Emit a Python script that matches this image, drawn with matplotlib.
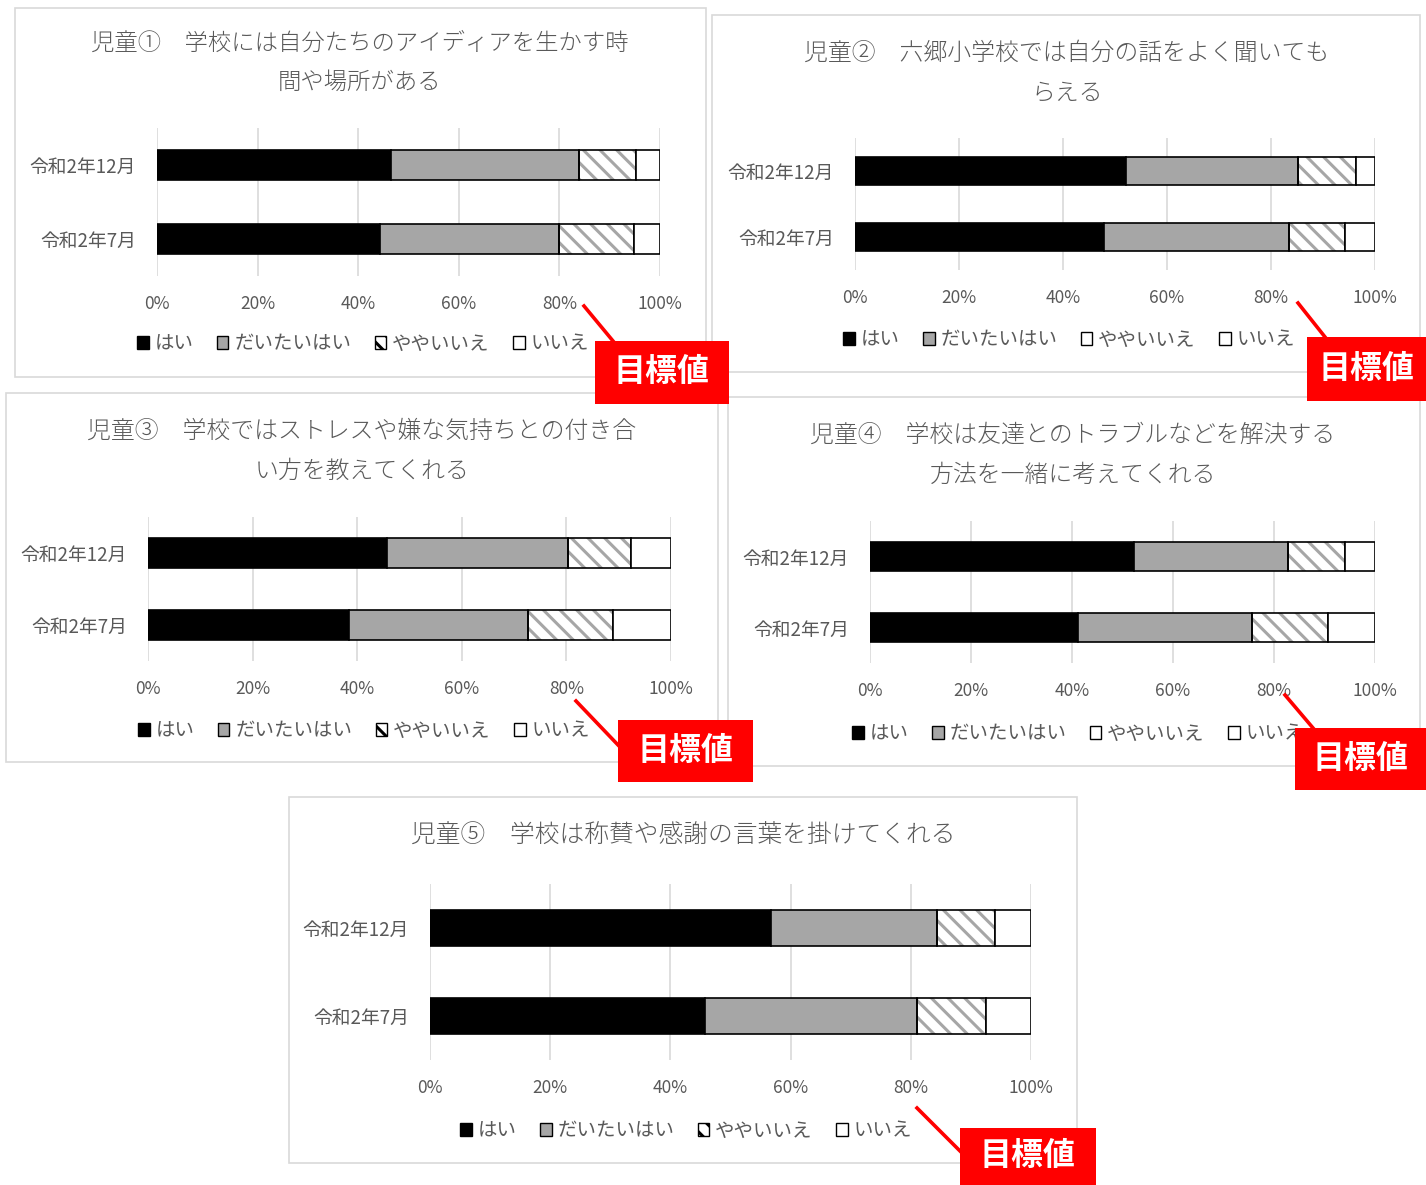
import numpy as np
import matplotlib
matplotlib.use("Agg")
import matplotlib.pyplot as plt
from matplotlib.patches import Rectangle, Patch
from matplotlib.lines import Line2D

plt.rcParams['font.family'] = ['Noto Sans CJK JP', 'DejaVu Sans']
plt.rcParams['hatch.linewidth'] = 2.2

## data
periods = ['令和2年7月', '令和2年12月']
answers = ['はい', 'だいたいはい', 'ややいいえ', 'いいえ']

titles = [
    ['児童①　学校には自分たちのアイディアを生かす時', '間や場所がある'],
    ['児童②　六郷小学校では自分の話をよく聞いても', 'らえる'],
    ['児童③　学校ではストレスや嫌な気持ちとの付き合', 'い方を教えてくれる'],
    ['児童④　学校は友達とのトラブルなどを解決する', '方法を一緒に考えてくれる'],
    ['児童⑤　学校は称賛や感謝の言葉を掛けてくれる'],
]

# percentages per question, rows = [7月, 12月], cols = answers
q1 = [[44.4, 35.6, 14.8, 5.2], [46.5, 37.3, 11.5, 4.7]]
q2 = [[47.8, 35.7, 10.8, 5.7], [52.2, 32.9, 11.3, 3.6]]
q3 = [[38.4, 34.2, 16.4, 11.0], [45.7, 34.7, 12.0, 7.6]]
q4 = [[41.1, 34.6, 14.9, 9.4], [52.3, 30.4, 11.3, 6.0]]
q5 = [[45.8, 35.3, 11.4, 7.5], [56.7, 27.6, 9.7, 6.0]]
results = [q1, q2, q3, q4, q5]

xticks = [0, 20, 40, 60, 80, 100]
target_label = '目標値'

## layout (pixels)
W, H = 1426, 1185
# panel box, plot area, title line y's, title center x, legend pos, hatched legend key
panels = [
    dict(box=(15, 8, 706, 377), ax=(157, 128, 660, 276), ty=[43, 82], tx=360,
         ly=344, lx=363, lhatch=True, tsize=16.8),
    dict(box=(712, 15, 1420, 372), ax=(855, 138, 1375, 270), ty=[53, 93], tx=1067,
         ly=340, lx=1069, lhatch=False, tsize=17.2),
    dict(box=(6, 393, 718, 762), ax=(148, 517, 671, 661), ty=[431, 471], tx=362,
         ly=731, lx=364, lhatch=True, tsize=17.2),
    dict(box=(728, 397, 1420, 766), ax=(870, 521, 1375, 663), ty=[435, 475], tx=1073,
         ly=734, lx=1078, lhatch=False, tsize=17.2),
    dict(box=(289, 797, 1077, 1163), ax=(430, 884, 1031, 1060), ty=[836], tx=683,
         ly=1131, lx=686, lhatch=True, tsize=17.8),
]
# red callouts: box (l, t, r, b), pointer line (x0, y0, x1, y1)
callouts = [
    ((595, 341, 729, 404), (584, 306, 613, 341)),
    ((1307, 337, 1426, 401), (1298, 303, 1325, 337)),
    ((618, 720, 753, 782), (576, 701, 619, 746)),
    ((1295, 728, 1426, 790), (1285, 695, 1313, 728)),
    ((960, 1128, 1096, 1185), (917, 1108, 962, 1153)),
]

txt = '#595959'
grid = '#d9d9d9'
fills = ['black', '#a6a6a6', 'white', 'white']
hatches = [None, None, '\\\\', None]


def fx(x):
    return x / W


def fy(y):
    return 1 - y / H


fig = plt.figure(figsize=(W / 100, H / 100), dpi=100, facecolor='white')

for p, data, title in zip(panels, results, titles):
    l, t, r, b = p['box']
    fig.patches.append(Rectangle((fx(l), fy(b)), (r - l) / W, (b - t) / H,
                                 transform=fig.transFigure, facecolor='white',
                                 edgecolor=grid, linewidth=1.2, zorder=-1))

    al, at, ar, ab = p['ax']
    ax = fig.add_axes([fx(al), fy(ab), (ar - al) / W, (ab - at) / H])
    ax.patch.set_visible(False)

    vals = np.array(data)
    y = np.arange(len(periods))
    left = np.zeros(len(periods))
    for j in range(len(answers)):
        if hatches[j]:
            ax.barh(y, vals[:, j], left=left, height=0.41, color='white',
                    hatch=hatches[j], edgecolor='#a6a6a6', linewidth=0, zorder=2)
            ax.barh(y, vals[:, j], left=left, height=0.41, fill=False,
                    edgecolor='black', linewidth=1.2, zorder=3)
        else:
            ax.barh(y, vals[:, j], left=left, height=0.41, color=fills[j],
                    edgecolor='black', linewidth=1.2, zorder=3)
        left += vals[:, j]

    ax.set_xlim(0, 100)
    ax.set_ylim(-0.5, 1.5)
    ax.set_xticks(xticks)
    ax.set_xticklabels([f'{v}%' for v in xticks])
    ax.set_yticks(y)
    ax.set_yticklabels(periods)
    ax.tick_params(axis='x', length=0, pad=13.5, labelsize=12.5, labelcolor=txt)
    ax.tick_params(axis='y', length=0, pad=15, labelsize=13.5, labelcolor=txt)
    ax.grid(axis='x', color=grid, linewidth=1.2, zorder=0)
    ax.set_axisbelow(True)
    for s in ax.spines.values():
        s.set_visible(False)

    for line, ty in zip(title, p['ty']):
        fig.text(fx(p['tx']), fy(ty), line, ha='center', va='center',
                 fontsize=p['tsize'], color=txt, fontweight='light')

    handles = []
    for j in range(len(answers)):
        h = hatches[j] if p['lhatch'] else None
        handles.append(Patch(facecolor=fills[j], edgecolor='black',
                             linewidth=1.0, hatch=h))
    fig.legend(handles, answers, loc='center', ncol=4,
               bbox_to_anchor=(fx(p['lx']), fy(p['ly'])),
               frameon=False, fontsize=14, labelcolor=txt,
               handlelength=0.6, handleheight=0.6,
               handletextpad=0.3, columnspacing=1.2)

for (l, t, r, b), (x0, y0, x1, y1) in callouts:
    fig.lines.append(Line2D([fx(x0), fx(x1)], [fy(y0), fy(y1)],
                            transform=fig.transFigure, color='#ff0000',
                            linewidth=2.6, zorder=5))
    fig.patches.append(Rectangle((fx(l), fy(b)), (r - l) / W, (b - t) / H,
                                 transform=fig.transFigure, facecolor='#ff0000',
                                 edgecolor='none', zorder=6))
    fig.text(fx((l + r) / 2), fy((t + b) / 2), target_label, ha='center',
             va='center', fontsize=23, fontweight='bold', color='white', zorder=7)

fig.savefig('out.png', dpi=100, facecolor='white')
